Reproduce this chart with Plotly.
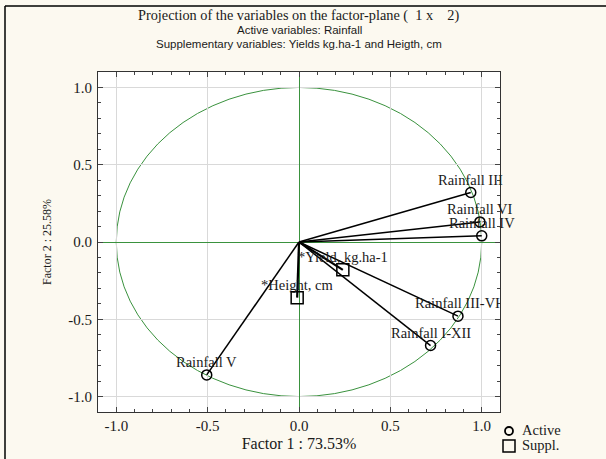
import plotly.graph_objects as go

# ---- data ----
active_names = ["Rainfall III", "Rainfall VI", "Rainfall IV", "Rainfall III-VI", "Rainfall I-XII", "Rainfall V"]
active_f1 = [0.94, 0.99, 1.00, 0.87, 0.72, -0.505]
active_f2 = [0.32, 0.13, 0.04, -0.48, -0.67, -0.86]

suppl_names = ["*Yield, kg.ha-1", "*Height, cm"]
suppl_f1 = [0.24, -0.01]
suppl_f2 = [-0.18, -0.36]

tick_vals = [-1.0, -0.5, 0.0, 0.5, 1.0]
tick_text = ["-1.0", "-0.5", "0.0", "0.5", "1.0"]

legend_labels = ["Active", "Suppl."]

title_main = "Projection of the variables on the factor-plane (  1 x    2)"
title_sub1 = "Active variables: Rainfall"
title_sub2 = "Supplementary variables: Yields kg.ha-1 and Heigth, cm"
x_title = "Factor 1 : 73.53%"
y_title = "Factor 2 : 25.58%"

SERIF = "Liberation Serif"
SANS = "Liberation Sans"
CREAM = "#FCF9F0"
GREEN = "#3A923E"
TXT = "#1a1a1a"

W, H = 606, 459
ML, MR, MT, MB = 98, 106, 72, 47
PW, PH = W - ML - MR, H - MT - MB


def px_x(px):
    return (px - ML) / PW


def px_y(py):
    return (H - MB - py) / PH


fig = go.Figure()


def vectors(xs, ys):
    lx, ly = [], []
    for x, y in zip(xs, ys):
        lx += [0, x, None]
        ly += [0, y, None]
    return lx, ly


ax, ay = vectors(active_f1, active_f2)
fig.add_trace(go.Scatter(x=ax, y=ay, mode="lines", line=dict(color="black", width=1.5),
                         showlegend=False, hoverinfo="skip"))
sx, sy = vectors(suppl_f1, suppl_f2)
fig.add_trace(go.Scatter(x=sx, y=sy, mode="lines", line=dict(color="black", width=2.2),
                         showlegend=False, hoverinfo="skip"))

fig.add_trace(go.Scatter(x=active_f1, y=active_f2, mode="markers", name=legend_labels[0],
                         marker=dict(symbol="circle-open", size=10, color="black", line=dict(width=1.5)),
                         showlegend=False))
fig.add_trace(go.Scatter(x=suppl_f1, y=suppl_f2, mode="markers", name=legend_labels[1],
                         marker=dict(symbol="square-open", size=12, color="black", line=dict(width=1.5)),
                         showlegend=False))

for names, xs, ys in ((active_names, active_f1, active_f2), (suppl_names, suppl_f1, suppl_f2)):
    for n, x, y in zip(names, xs, ys):
        fig.add_annotation(x=x, y=y, xref="x", yref="y", text=n, showarrow=False,
                           yshift=13, yanchor="middle", xanchor="center",
                           font=dict(family=SERIF, size=14.5, color=TXT))

# unit circle
fig.add_shape(type="circle", xref="x", yref="y", x0=-1, y0=-1, x1=1, y1=1,
              line=dict(color=GREEN, width=1), layer="below")

# outer frame (left and top edges visible)
fig.add_shape(type="line", xref="paper", yref="paper", x0=px_x(5), x1=px_x(5), y0=px_y(470), y1=px_y(6),
              line=dict(color="black", width=1.5))
fig.add_shape(type="line", xref="paper", yref="paper", x0=px_x(5), x1=px_x(620), y0=px_y(6), y1=px_y(6),
              line=dict(color="black", width=1.5))

# legend (bottom-right, outside the plot area)
fig.add_shape(type="circle", xref="paper", yref="paper",
              x0=px_x(505), x1=px_x(513), y0=px_y(435), y1=px_y(427),
              line=dict(color="black", width=1.8))
fig.add_shape(type="rect", xref="paper", yref="paper",
              x0=px_x(503), x1=px_x(515), y0=px_y(452), y1=px_y(440),
              line=dict(color="black", width=1.5))
for lab, cy in zip(legend_labels, (430, 445)):
    fig.add_annotation(text=lab, xref="paper", yref="paper", x=px_x(520), y=px_y(cy),
                       xanchor="left", yanchor="middle", showarrow=False,
                       font=dict(family=SERIF, size=14.5, color=TXT))

axis_common = dict(
    tickvals=tick_vals, ticktext=tick_text,
    ticks="inside", ticklen=5, tickcolor="#444",
    showline=True, linecolor="#333", linewidth=1, mirror="allticks",
    showgrid=True, gridcolor="#D9D9D9", gridwidth=1,
    zeroline=True, zerolinecolor=GREEN, zerolinewidth=1,
    tickfont=dict(family=SERIF, size=15, color=TXT),
    minor=dict(dtick=0.1, ticks="inside", ticklen=3, tickcolor="#444", showgrid=False),
    automargin=False,
)

fig.update_xaxes(range=[-1.1, 1.1], title=dict(text=x_title, font=dict(family=SERIF, size=16, color=TXT), standoff=4),
                 **axis_common)
fig.update_yaxes(range=[-1.1, 1.1], title=dict(text=y_title, font=dict(family=SERIF, size=12, color=TXT), standoff=14),
                 ticklabelstandoff=2, **axis_common)

fig.add_annotation(text=title_main, xref="paper", yref="paper", x=0.5, y=px_y(16), yanchor="middle",
                   showarrow=False, font=dict(family=SERIF, size=14.3, color=TXT))
fig.add_annotation(text=title_sub1, xref="paper", yref="paper", x=0.5, y=px_y(30), yanchor="middle",
                   showarrow=False, font=dict(family=SANS, size=11.5, color=TXT))
fig.add_annotation(text=title_sub2, xref="paper", yref="paper", x=0.5, y=px_y(44), yanchor="middle",
                   showarrow=False, font=dict(family=SANS, size=11.5, color=TXT))

fig.update_layout(
    width=W, height=H,
    margin=dict(l=ML, r=MR, t=MT, b=MB),
    paper_bgcolor=CREAM, plot_bgcolor="white",
    showlegend=False,
)

fig.write_html("out.html", config={"displayModeBar": False},
               post_script="document.body.style.margin='0';")
